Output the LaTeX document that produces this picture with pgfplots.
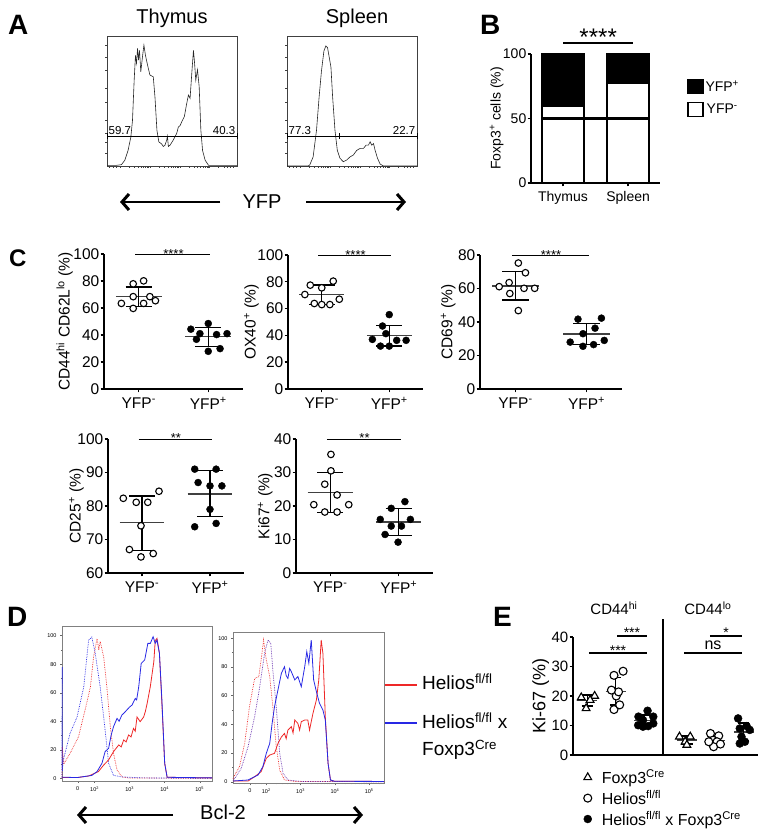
\documentclass[border=0pt]{standalone}
\usepackage{fontspec}
\setmainfont{Liberation Sans}
\usepackage{pgfplots}
\pgfplotsset{compat=1.18}
\usetikzlibrary{arrows.meta}
\newcommand\fs[1]{\fontsize{#1}{#1}\selectfont}
\definecolor{fred}{RGB}{238,40,40}
\definecolor{fblue}{RGB}{40,40,228}
\newcommand\msd[8]{%
 \addplot[black!75,line width=1.4pt,forget plot] coordinates {(#1,#6) (#2,#6)};
 \addplot[black,line width=1.4pt,forget plot] coordinates {(#3,#7) (#3,#8)};
 \addplot[black,line width=1.4pt,forget plot] coordinates {(#4,#7) (#5,#7)};
 \addplot[black,line width=1.4pt,forget plot] coordinates {(#4,#8) (#5,#8)};}
\pgfplotsset{
  base/.style={scale only axis, anchor=south west, clip=false,
     /pgf/number format/assume math mode=true},
  dotax/.style={base, axis x line*=bottom, axis y line*=left,
     axis line style={line width=1.4pt}, tick style={line width=1.4pt, black},
     major tick length=3.5pt, tick align=outside,
     xmin=0.5, xmax=2.5, xtick={1,2},
     xticklabels={YFP\textsuperscript{-}, YFP\textsuperscript{+}},
     tick label style={font=\fs{15.5}}, yticklabel style={inner sep=1pt}, xticklabel style={yshift=-1.5pt},
     ylabel style={font=\fs{15.5}, yshift=-4pt}},
  openpt/.style={only marks, mark=*, mark size=3.3pt, mark options={fill=white, draw=black, line width=1.1pt}},
  fillpt/.style={only marks, mark=*, mark size=3.5pt, mark options={fill=black, draw=black}},
  histA/.style={base, width=130pt, height=130pt, xmin=0, xmax=1000, ymin=0, ymax=100,
     axis line style={black!75, line width=0.6pt}, tick pos=left, tick align=outside,
     major tick length=2pt, tick style={black!75, line width=0.5pt},
     xticklabels={}, yticklabels={},
     xtick={20,45,70,100,169,210,238,261,279,294,308,319,330,399,440,468,491,509,524,538,549,560,629,670,698,721,739,754,768,779,790,859,900,928,951,969},
     ytick={10,18,25,35,49,60,74,84,93}},
  histD/.style={base, axis line style={black!50, line width=0.6pt}, tick pos=left, tick align=outside,
     major tick length=2pt, minor tick length=1.2pt, tick style={black!60, line width=0.4pt},
     tick label style={font=\fs{5.5}}, xtick={1.52,2,3,4,5},
     xticklabels={0,10\textsuperscript{2},10\textsuperscript{3},10\textsuperscript{4},10\textsuperscript{5}},
     ytick={0,20,40,60,80,100}, minor y tick num=1,
     minor xtick={1.2,1.36,1.68,1.84,2.301,2.477,2.602,2.699,2.778,2.845,2.903,2.954,3.301,3.477,3.602,3.699,3.778,3.845,3.903,3.954,4.301,4.477,4.602,4.699,4.778,4.845,4.903,4.954,5.301}},
}
\begin{document}
\begin{tikzpicture}[x=1pt,y=1pt]
\useasboundingbox (0,0) rectangle (765,834);
% panel letters
\node[anchor=base west, inner sep=0pt, font=\fs{28}\bfseries] at (8,799) {A};
\node[anchor=base west, inner sep=0pt, font=\fs{28}\bfseries] at (480,799) {B};
\node[anchor=base west, inner sep=0pt, font=\fs{24}\bfseries] at (9,567) {C};
\node[anchor=base west, inner sep=0pt, font=\fs{28}\bfseries] at (7,207) {D};
\node[anchor=base west, inner sep=0pt, font=\fs{28}\bfseries] at (493,207) {E};

% ---------------- A ----------------
\node[anchor=base, font=\fs{20}] at (172,810.7) {Thymus};
\node[anchor=base, font=\fs{20}] at (357,810.7) {Spleen};
\begin{axis}[histA, at={(107pt,668pt)}]
\addplot[black!85, line width=0.6pt] coordinates {(0,0.5) (72,0.5) (111,1) (137,4.4) (162,12) (183,22) (196,35) (209,66) (219,85) (227,79) (235,90.5) (242,81.5) (250,89) (260,72.5) (273,84) (284,93) (296,85) (312,77.6) (330,70) (356,68.6) (369,53) (384,27.5) (399,18.5) (420,17) (433,15) (446,16) (459,19.8) (465,23) (472,15) (485,16) (510,20) (536,25) (549,30) (562,31) (575,34) (595,38) (613,48) (626,54.5) (639,52) (652,71) (665,89) (673,80) (683,66) (696,74) (709,61) (722,27.5) (735,12) (755,4.4) (781,0.5) (1000,0.5)};
\draw[line width=1pt] (axis cs:0,23) -- (axis cs:1000,23);
\draw[line width=0.8pt] (axis cs:0,21) -- (axis cs:0,25);
\draw[line width=0.8pt] (axis cs:1000,21) -- (axis cs:1000,25);
\node[anchor=south west, inner sep=1.5pt, font=\fs{11.5}] at (axis cs:0,23) {59.7};
\node[anchor=south east, inner sep=1.5pt, font=\fs{11.5}] at (axis cs:1000,23) {40.3};
\end{axis}
\begin{axis}[histA, at={(287pt,668pt)}]
\addplot[black!85, line width=0.6pt] coordinates {(0,0) (162,0) (175,0.8) (201,7) (227,27.5) (247,53) (265,73) (284,88.5) (299,92.4) (312,91) (325,83.5) (338,76) (351,53) (369,27.5) (387,12) (407,6) (433,3.3) (459,4.6) (485,7) (510,8.4) (536,12) (562,13.5) (588,13.5) (608,16) (626,16) (639,18.6) (652,16) (665,17.3) (678,12) (696,6) (716,1.5) (742,0) (1000,0)};
\draw[line width=1pt] (axis cs:0,23) -- (axis cs:1000,23);
\draw[line width=0.8pt] (axis cs:0,21) -- (axis cs:0,25);
\draw[line width=0.8pt] (axis cs:402,21) -- (axis cs:402,25);
\draw[line width=0.8pt] (axis cs:1000,21) -- (axis cs:1000,25);
\node[anchor=south west, inner sep=1.5pt, font=\fs{11.5}] at (axis cs:0,23) {77.3};
\node[anchor=south east, inner sep=1.5pt, font=\fs{11.5}] at (axis cs:1000,23) {22.7};
\end{axis}
\draw[line width=2.2pt, -{Straight Barb[length=7pt,width=16pt,line width=3pt]}] (220,632) -- (120,632);
\draw[line width=2.2pt, -{Straight Barb[length=7pt,width=16pt,line width=3pt]}] (306,632) -- (406,632);
\node[anchor=base, font=\fs{20}] at (262,625.7) {YFP};

% ---------------- B ----------------
\begin{axis}[base, at={(531pt,651pt)}, width=129pt, height=129pt, ymin=0, ymax=100,
  xmin=0.508, xmax=2.49, ybar stacked, bar width=42pt,
  axis x line*=bottom, axis y line*=left, xtick={1,2}, xticklabels={Thymus,Spleen},
  ytick={0,50,100}, axis line style={line width=1.3pt}, tick style={line width=1.3pt,black},
  major tick length=3.5pt, tick align=outside, tick label style={font=\fs{14}},
  yticklabel style={inner sep=1pt}, xticklabel style={yshift=-1.5pt},
  ylabel={Foxp3\textsuperscript{+} cells (\%)}, ylabel style={font=\fs{14}, yshift=-5pt},
  legend style={at={(1.21,0.81)}, anchor=north west, draw=none, fill=none, font=\fs{14}, row sep=7pt, inner sep=0pt}]
\addplot[fill=white, draw=black, line width=1.3pt, forget plot] coordinates {(1,59.7) (2,77.3)};
\addplot[fill=black, draw=black, line width=1.3pt, forget plot] coordinates {(1,40.3) (2,22.7)};
\addlegendimage{legend image code/.code={\draw[fill=black, line width=1.2pt] (0pt,-7pt) rectangle (15pt,7pt);}}
\addlegendentry{YFP\textsuperscript{+}}
\addlegendimage{legend image code/.code={\draw[fill=white, line width=1.2pt] (0pt,-7pt) rectangle (15pt,7pt);}}
\addlegendentry{YFP\textsuperscript{-}}
\draw[line width=1.3pt] (axis cs:1,108.5) -- (axis cs:2.08,108.5);
\node[anchor=base, font=\fs{24}] at (axis cs:1.54,106.7) {****};
\end{axis}
\begin{axis}[base, at={(531pt,651pt)}, width=129pt, height=129pt, ymin=0, ymax=100,
  xmin=0.508, xmax=2.49, hide axis]
\addplot[black, line width=3.5pt] coordinates {(0.677,50) (2.323,50)};
\end{axis}

% ---------------- C row 1 ----------------
\begin{axis}[dotax, at={(104pt,445pt)}, width=139pt, height=135pt, ymin=0, ymax=100, ytick={0,20,...,100},
  ylabel={CD44\textsuperscript{hi} CD62L\textsuperscript{lo} (\%)}]
\addplot[openpt] coordinates {(0.75,63.4) (0.92,59.7) (0.92,68.4) (1.07,63.4) (1.16,68.4) (1.24,65.4) (0.92,77.9) (1.07,80.1)};
\addplot[fillpt] coordinates {(1.75,44.3) (2.0,48.5) (1.88,41) (2.27,41) (2.12,40.3) (1.83,36.8) (2.0,27.9) (2.17,29.9)};
\msd{0.67}{1.33}{1}{0.81}{1.19}{68.3}{61}{75.5}
\msd{1.67}{2.33}{2}{1.81}{2.19}{38.7}{31.5}{45.5}
\draw[line width=1.4pt] (axis cs:0.95,99.5) -- (axis cs:2.03,99.5);
\node[anchor=base, font=\fs{13}] at (axis cs:1.5,97) {****};
\end{axis}
\begin{axis}[dotax, at={(288pt,445pt)}, width=135pt, height=134pt, ymin=0, ymax=100, ytick={0,20,...,100},
  ylabel={OX40\textsuperscript{+} (\%)}, ylabel style={yshift=-2pt}]
\addplot[openpt] coordinates {(0.83,77.5) (1.0,75.5) (1.17,80.5) (0.75,70.5) (1.26,67) (0.89,63.8) (1.0,63) (1.12,63)};
\addplot[fillpt] coordinates {(2.0,55.5) (1.9,47) (1.75,37) (1.95,41.3) (2.11,36.3) (2.25,36.3) (1.87,32) (2.0,32)};
\msd{0.67}{1.33}{1}{0.81}{1.19}{70.5}{63}{77.5}
\msd{1.67}{2.33}{2}{1.81}{2.19}{39.7}{32}{47.5}
\draw[line width=1.4pt] (axis cs:0.95,99.5) -- (axis cs:2.03,99.5);
\node[anchor=base, font=\fs{13}] at (axis cs:1.5,97) {****};
\end{axis}
\begin{axis}[dotax, at={(480pt,445pt)}, width=142pt, height=134pt, ymin=0, ymax=80, ytick={0,20,...,80},
  ylabel={CD69\textsuperscript{+} (\%)}, ylabel style={yshift=2pt}]
\addplot[openpt] coordinates {(1.04,75.2) (1.14,69.4) (0.77,61.1) (0.91,63.5) (1.12,60.1) (1.27,60.1) (0.92,57) (1.04,46.8)};
\addplot[fillpt] coordinates {(1.88,41.7) (2.21,42.3) (2.12,36.3) (1.95,33) (2.25,29) (1.77,28) (1.95,25.5) (2.1,26.5)};
\msd{0.67}{1.33}{1}{0.81}{1.19}{61.6}{53.2}{70}
\msd{1.67}{2.33}{2}{1.81}{2.19}{32.8}{26.4}{39.2}
\draw[line width=1.4pt] (axis cs:0.95,79.6) -- (axis cs:2.03,79.6);
\node[anchor=base, font=\fs{13}] at (axis cs:1.5,77.6) {****};
\end{axis}

% ---------------- C row 2 ----------------
\begin{axis}[dotax, at={(108pt,261pt)}, width=136pt, height=134pt, ymin=60, ymax=100, ytick={60,70,...,100},
  ylabel={CD25\textsuperscript{+} (\%)}, ylabel style={yshift=-7pt}]
\addplot[openpt] coordinates {(0.725,82.3) (0.915,81.1) (1.085,81.1) (1.25,84.4) (0.985,74.1) (0.815,67) (0.985,64.8) (1.165,65.8)};
\addplot[fillpt] coordinates {(1.775,91) (2.09,91) (1.825,87) (2.0,86) (2.175,86) (2.0,79) (1.775,73.8) (2.09,74.8)};
\msd{0.67}{1.33}{1}{0.81}{1.19}{75.1}{66.8}{83}
\msd{1.67}{2.33}{2}{1.81}{2.19}{83.6}{76.8}{90.6}
\draw[line width=1.4pt] (axis cs:0.95,99.8) -- (axis cs:2.03,99.8);
\node[anchor=base, font=\fs{13}] at (axis cs:1.5,99.1) {**};
\end{axis}
\begin{axis}[dotax, at={(296pt,261pt)}, width=137pt, height=134pt, ymin=0, ymax=40, ytick={0,10,...,40},
  ylabel={Ki67\textsuperscript{+} (\%)}, ylabel style={yshift=1pt}]
\addplot[openpt] coordinates {(1.01,35.4) (1.01,30.5) (0.92,26.5) (1.1,23.3) (0.76,20.4) (1.27,20.4) (0.92,18.2) (1.1,18.2)};
\addplot[fillpt] coordinates {(2.09,21.3) (1.89,19.3) (1.73,16) (2.17,16) (1.89,14) (2.04,14) (1.8,11.5) (1.99,9.2)};
\msd{0.67}{1.33}{1}{0.81}{1.19}{24.1}{18}{30}
\msd{1.67}{2.33}{2}{1.81}{2.19}{15.2}{11.2}{19.2}
\draw[line width=1.4pt] (axis cs:0.95,39.9) -- (axis cs:2.03,39.9);
\node[anchor=base, font=\fs{13}] at (axis cs:1.5,39.1) {**};
\end{axis}

% ---------------- D ----------------
\begin{axis}[histD, at={(62pt,53pt)}, width=150pt, height=155pt, xmin=1.07, xmax=5.35, ymin=-1.9, ymax=106.8]
\addplot[fred, line width=0.7pt, densely dotted] coordinates {(1.07,0) (1.08,22) (1.12,10) (1.30,17.5) (1.54,29) (1.73,48) (1.88,64) (1.97,85) (2.07,98) (2.12,90) (2.16,96) (2.26,85) (2.35,64) (2.45,36) (2.54,17.5) (2.64,5.8) (2.78,1) (2.97,0.2) (5.35,0)};
\addplot[fblue, line width=0.7pt, densely dotted] coordinates {(1.07,0) (1.075,78) (1.08,5) (1.11,13) (1.30,31.5) (1.50,43) (1.69,64) (1.83,97) (1.92,99) (2.02,87.6) (2.16,64) (2.30,34) (2.40,10.5) (2.54,2) (2.78,1) (3.35,0.3) (5.35,0)};
\addplot[fred, line width=0.8pt] coordinates {(1.07,0.5) (1.5,0.5) (1.83,1.6) (2.11,4.7) (2.26,9.3) (2.40,12.9) (2.54,18.7) (2.69,23.4) (2.76,22) (2.83,26.9) (2.90,25.5) (2.97,30.4) (3.04,29) (3.11,35) (3.16,33) (3.21,43) (3.30,39.7) (3.40,43) (3.45,47) (3.50,52.6) (3.59,64.3) (3.69,81.8) (3.73,96.5) (3.78,98.1) (3.85,87.6) (3.92,52.6) (4.00,10.5) (4.07,0.7) (5.35,0.3)};
\addplot[fblue, line width=0.8pt] coordinates {(1.07,0.8) (1.50,0.5) (1.92,2) (2.07,4.7) (2.21,10.5) (2.30,18.7) (2.40,21) (2.47,30) (2.54,36.2) (2.64,42) (2.70,40) (2.78,44.4) (2.85,46) (2.92,47.9) (3.0,50) (3.07,51.4) (3.16,56) (3.20,55) (3.26,64.3) (3.33,80.6) (3.43,83) (3.52,94.6) (3.59,94.6) (3.67,99.3) (3.73,94.6) (3.78,97) (3.85,87.6) (3.92,55) (4.00,10.5) (4.07,0.7) (5.35,0.3)};
\end{axis}
\begin{axis}[histD, at={(233pt,50.7pt)}, width=151pt, height=151pt, xmin=1.03, xmax=5.43, ymin=-1.1, ymax=104.2]
\addplot[fred, line width=0.7pt, densely dotted] coordinates {(1.03,2) (1.08,4.7) (1.22,10.5) (1.37,26.7) (1.51,52.3) (1.66,72) (1.78,73.3) (1.85,84.9) (1.92,98.8) (2.00,84.9) (2.10,73.3) (2.19,52.3) (2.29,24.4) (2.39,8.1) (2.53,1.2) (2.83,0.2) (5.43,0)};
\addplot[fblue!70!fred, line width=0.7pt, densely dotted] coordinates {(1.03,1) (1.08,2.3) (1.27,9.3) (1.47,24.4) (1.66,45.3) (1.81,66.3) (1.95,89.5) (2.05,98.8) (2.13,96.5) (2.19,77.9) (2.29,52.3) (2.39,19.8) (2.49,5.8) (2.63,1.2) (3.02,0.2) (5.43,0)};
\addplot[fred, line width=0.8pt] coordinates {(1.03,0.5) (1.47,0.5) (1.66,3.5) (1.85,7) (2.00,16.3) (2.10,18.6) (2.24,19.8) (2.34,26.7) (2.44,31.2) (2.53,33.7) (2.58,30) (2.63,36) (2.73,38.4) (2.78,34) (2.83,43) (2.92,40.7) (2.97,36) (3.02,41.9) (3.12,43) (3.21,43) (3.26,36) (3.36,47.7) (3.46,57) (3.53,71) (3.60,98.8) (3.65,89.5) (3.72,45) (3.80,12.8) (3.87,1.2) (3.99,0.3) (5.43,0.2)};
\addplot[fblue, line width=0.8pt] coordinates {(1.03,0.5) (1.47,1.2) (1.76,4.7) (1.90,10.5) (2.00,19.8) (2.10,26.7) (2.17,40.7) (2.24,52.3) (2.34,64) (2.44,75.6) (2.53,80.2) (2.58,74) (2.63,72) (2.68,79) (2.73,76.7) (2.83,71) (2.92,73.3) (3.02,66.3) (3.12,80.2) (3.18,90.7) (3.24,82.6) (3.31,98.8) (3.38,71) (3.46,62.8) (3.55,54.7) (3.65,50) (3.72,43) (3.80,12.8) (3.87,1.2) (3.99,0.3) (5.43,0.2)};
\end{axis}
\draw[fred, line width=1.5pt] (385,149) -- (417,149);
\draw[fblue, line width=1.5pt] (385,111) -- (417,111);
\node[anchor=base west, inner sep=0pt, font=\fs{19}] at (422,144.7) {Helios\textsuperscript{fl/fl}};
\node[anchor=base west, inner sep=0pt, font=\fs{19}] at (422,105.7) {Helios\textsuperscript{fl/fl} x};
\node[anchor=base west, inner sep=0pt, font=\fs{19}] at (422,78.3) {Foxp3\textsuperscript{Cre}};
\draw[line width=2.2pt, -{Straight Barb[length=7pt,width=16pt,line width=3pt]}] (173,19) -- (77,19);
\draw[line width=2.2pt, -{Straight Barb[length=7pt,width=16pt,line width=3pt]}] (268,19) -- (363,19);
\node[anchor=base, font=\fs{20}] at (223,14.7) {Bcl-2};

% ---------------- E ----------------
\begin{axis}[base, at={(573pt,79pt)}, width=185pt, height=118pt, xmin=0, xmax=6.5, ymin=0, ymax=40,
  axis x line*=bottom, axis y line*=left, xtick=\empty, ytick={0,10,...,40},
  axis line style={line width=1.4pt}, tick style={line width=1.4pt,black}, major tick length=3.5pt,
  tick align=outside, tick label style={font=\fs{15}}, yticklabel style={inner sep=1pt},
  ylabel={Ki-67 (\%)}, ylabel style={font=\fs{18}, yshift=-2pt},
  legend style={at={(0.057,-0.105)}, anchor=north west, draw=none, fill=none, font=\fs{16}, inner sep=0pt, row sep=1pt, legend cell align=left, /tikz/every odd column/.append style={column sep=8pt}},
  legend image code/.code={\draw[mark repeat=2,mark phase=2,#1] plot coordinates {(0pt,0pt)(7pt,0pt)(14pt,0pt)};}]
\addplot[only marks, mark=triangle*, mark size=4.5pt, mark options={fill=white, draw=black, line width=1.1pt}] coordinates {(0.29,19.5) (0.76,20) (0.46,15.8) (0.6,18.6)};
\addlegendentry{Foxp3\textsuperscript{Cre}}
\addplot[only marks, mark=*, mark size=4pt, mark options={fill=white, draw=black, line width=1.1pt}] coordinates {(1.44,27) (1.76,28.4) (1.44,15.4) (1.64,17) (1.52,20) (1.6,21.4) (1.35,22)};
\addlegendentry{Helios\textsuperscript{fl/fl}}
\addplot[only marks, mark=*, mark size=4pt, mark options={fill=black, draw=black}] coordinates {(2.62,15) (2.3,13) (2.82,13) (2.46,11.8) (2.29,10.1) (2.64,9.8) (2.82,10.7) (2.46,9.6)};
\addlegendentry{Helios\textsuperscript{fl/fl} x Foxp3\textsuperscript{Cre}}
\addplot[forget plot, only marks, mark=triangle*, mark size=4.5pt, mark options={fill=white, draw=black, line width=1.1pt}] coordinates {(3.74,6.2) (4.12,6.2) (3.94,4.5) (4.0,3.4)};
\addplot[forget plot, only marks, mark=*, mark size=4pt, mark options={fill=white, draw=black, line width=1.1pt}] coordinates {(4.83,7.3) (5.12,6.5) (4.92,5) (5.06,4.5) (4.94,2.8) (5.18,3.7) (4.77,4.5)};
\addplot[forget plot, only marks, mark=*, mark size=4pt, mark options={fill=black, draw=black}] coordinates {(5.8,12.4) (6.1,9.8) (5.86,9) (6.21,8.5) (5.92,6.2) (6.04,4.5) (5.86,3.9)};
\msd{0.15}{0.85}{0.5}{0.3}{0.7}{18.5}{16.6}{20.4}
\msd{1.15}{1.85}{1.5}{1.3}{1.7}{21.6}{16.9}{26.3}
\msd{2.15}{2.85}{2.5}{2.3}{2.7}{11.6}{9.7}{13.5}
\msd{3.65}{4.35}{4}{3.8}{4.2}{5.1}{3.7}{6.5}
\msd{4.65}{5.35}{5}{4.8}{5.2}{4.9}{3.4}{6.4}
\msd{5.65}{6.35}{6}{5.8}{6.2}{7.8}{4.8}{10.8}
\draw[line width=1.6pt] (axis cs:3.16,0) -- (axis cs:3.16,46.1);
\node[anchor=base, font=\fs{15}] at (axis cs:1.44,47.5) {CD44\textsuperscript{hi}};
\node[anchor=base, font=\fs{15}] at (axis cs:4.74,47.5) {CD44\textsuperscript{lo}};
\draw[line width=1.4pt] (axis cs:1.55,40.3) -- (axis cs:2.6,40.3);
\node[anchor=base, font=\fs{14}] at (axis cs:2.07,39.8) {***};
\draw[line width=1.4pt] (axis cs:0.56,34.6) -- (axis cs:2.6,34.6);
\node[anchor=base, font=\fs{14}] at (axis cs:1.58,33.6) {***};
\draw[line width=1.4pt] (axis cs:3.9,34.6) -- (axis cs:5.94,34.6);
\node[anchor=base, font=\fs{16}] at (axis cs:4.92,35.9) {ns};
\draw[line width=1.4pt] (axis cs:4.81,40.3) -- (axis cs:5.94,40.3);
\node[anchor=base, font=\fs{14}] at (axis cs:5.38,39.8) {*};
\end{axis}
\end{tikzpicture}
\end{document}
